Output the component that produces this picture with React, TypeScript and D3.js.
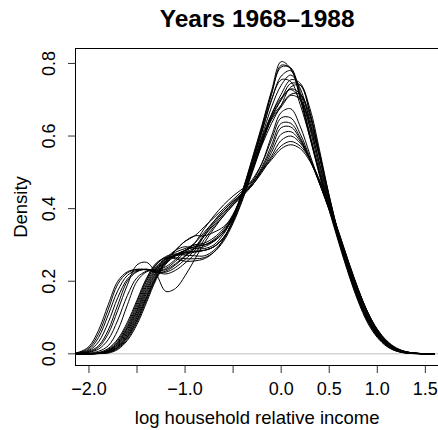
import { useEffect, useRef } from 'react'
import * as d3 from 'd3'

// evaluation grid (log household relative income)
const incomeGrid = [
  -2.2, -2.1, -2.0, -1.9, -1.8, -1.7, -1.6, -1.5, -1.4, -1.3,
  -1.2, -1.1, -1.0, -0.9, -0.8, -0.7, -0.6, -0.5, -0.4, -0.3,
  -0.2, -0.1, 0.0, 0.1, 0.2, 0.3, 0.4, 0.5, 0.6, 0.7,
  0.8, 0.9, 1.0, 1.1, 1.2, 1.3, 1.4, 1.5, 1.6,
]

// estimated densities, one array per year
const d1968 = [
  0, 0, 0.0005, 0.002, 0.01, 0.033, 0.075, 0.135, 0.2, 0.245,
  0.268, 0.275, 0.272, 0.27, 0.27, 0.285, 0.315, 0.37, 0.45, 0.54,
  0.63, 0.725, 0.805, 0.785, 0.7, 0.595, 0.49, 0.395, 0.305, 0.22,
  0.145, 0.085, 0.045, 0.02, 0.007, 0.002, 0.0005, 0, 0,
]
const d1969 = [
  0, 0, 0, 0.0013, 0.007, 0.024, 0.058, 0.111, 0.174, 0.227,
  0.259, 0.272, 0.278, 0.282, 0.285, 0.295, 0.32, 0.37, 0.445, 0.53,
  0.62, 0.715, 0.795, 0.785, 0.705, 0.6, 0.495, 0.4, 0.31, 0.225,
  0.15, 0.09, 0.048, 0.022, 0.008, 0.002, 0.0005, 0, 0,
]
const d1970 = [
  0, 0.0002, 0.0006, 0.0036, 0.0146, 0.041, 0.087, 0.148, 0.209, 0.25,
  0.265, 0.262, 0.255, 0.256, 0.262, 0.28, 0.315, 0.37, 0.45, 0.535,
  0.625, 0.72, 0.79, 0.788, 0.71, 0.605, 0.5, 0.405, 0.31, 0.225,
  0.15, 0.09, 0.048, 0.022, 0.008, 0.002, 0.0005, 0, 0,
]
const d1971 = [
  0, 0, 0.0003, 0.0016, 0.008, 0.028, 0.067, 0.121, 0.187, 0.236,
  0.263, 0.285, 0.295, 0.29, 0.29, 0.3, 0.33, 0.375, 0.445, 0.525,
  0.61, 0.7, 0.765, 0.78, 0.72, 0.62, 0.51, 0.41, 0.315, 0.228,
  0.152, 0.092, 0.05, 0.023, 0.009, 0.003, 0.0007, 0, 0,
]
const d1972 = [
  0, 0, 0, 0.001, 0.005, 0.019, 0.05, 0.1, 0.161, 0.218,
  0.254, 0.273, 0.285, 0.295, 0.3, 0.31, 0.335, 0.38, 0.445, 0.52,
  0.6, 0.68, 0.74, 0.768, 0.73, 0.635, 0.52, 0.415, 0.318, 0.23,
  0.155, 0.095, 0.052, 0.025, 0.01, 0.003, 0.001, 0, 0,
]
const d1973 = [
  0, 0, 0, 0.0006, 0.0036, 0.0146, 0.041, 0.087, 0.148, 0.209,
  0.25, 0.27, 0.28, 0.29, 0.295, 0.31, 0.335, 0.38, 0.45, 0.53,
  0.615, 0.7, 0.755, 0.75, 0.685, 0.595, 0.5, 0.41, 0.32, 0.235,
  0.16, 0.1, 0.056, 0.028, 0.012, 0.004, 0.001, 0, 0,
]
const d1974 = [
  0, 0, 0.0006, 0.0025, 0.012, 0.037, 0.081, 0.142, 0.205, 0.247,
  0.265, 0.27, 0.275, 0.28, 0.285, 0.295, 0.32, 0.365, 0.43, 0.505,
  0.585, 0.66, 0.715, 0.755, 0.745, 0.66, 0.545, 0.425, 0.32, 0.23,
  0.155, 0.095, 0.052, 0.025, 0.01, 0.003, 0.001, 0, 0,
]
const d1975 = [
  0, 0, 0, 0.0012, 0.006, 0.021, 0.054, 0.105, 0.168, 0.223,
  0.257, 0.274, 0.28, 0.283, 0.285, 0.295, 0.32, 0.365, 0.43, 0.505,
  0.58, 0.65, 0.7, 0.745, 0.74, 0.665, 0.55, 0.43, 0.322, 0.232,
  0.157, 0.097, 0.054, 0.027, 0.011, 0.004, 0.001, 0, 0,
]
const d1976 = [
  0, 0, 0.0004, 0.0018, 0.0088, 0.031, 0.071, 0.128, 0.193, 0.24,
  0.262, 0.265, 0.262, 0.262, 0.265, 0.28, 0.31, 0.36, 0.425, 0.5,
  0.575, 0.635, 0.685, 0.735, 0.74, 0.675, 0.56, 0.435, 0.325, 0.232,
  0.157, 0.097, 0.054, 0.027, 0.011, 0.004, 0.001, 0, 0,
]
const d1977 = [
  0, 0, 0, 0.0008, 0.004, 0.017, 0.046, 0.093, 0.155, 0.213,
  0.252, 0.272, 0.285, 0.295, 0.3, 0.312, 0.335, 0.375, 0.44, 0.515,
  0.59, 0.655, 0.7, 0.73, 0.715, 0.645, 0.54, 0.425, 0.322, 0.232,
  0.158, 0.098, 0.055, 0.028, 0.012, 0.004, 0.001, 0, 0,
]
const d1978 = [
  0, 0, 0, 0.0006, 0.002, 0.012, 0.037, 0.081, 0.142, 0.205,
  0.247, 0.27, 0.285, 0.3, 0.305, 0.32, 0.345, 0.385, 0.445, 0.52,
  0.595, 0.66, 0.705, 0.728, 0.7, 0.625, 0.525, 0.42, 0.32, 0.233,
  0.16, 0.1, 0.057, 0.029, 0.013, 0.005, 0.0015, 0, 0,
]
const d1979 = [
  0, 0, 0, 0.0015, 0.0075, 0.026, 0.062, 0.117, 0.18, 0.232,
  0.261, 0.28, 0.29, 0.3, 0.3, 0.315, 0.34, 0.38, 0.44, 0.51,
  0.585, 0.65, 0.685, 0.715, 0.715, 0.655, 0.55, 0.435, 0.328, 0.236,
  0.16, 0.1, 0.057, 0.029, 0.013, 0.005, 0.0015, 0, 0,
]
const d1980 = [
  0, 0, 0, 0.0008, 0.004, 0.017, 0.046, 0.093, 0.155, 0.213,
  0.255, 0.285, 0.31, 0.325, 0.325, 0.335, 0.35, 0.38, 0.435, 0.505,
  0.58, 0.645, 0.68, 0.712, 0.7, 0.635, 0.54, 0.43, 0.328, 0.238,
  0.163, 0.103, 0.06, 0.031, 0.014, 0.005, 0.0015, 0, 0,
]
const d1981 = [
  0, 0, 0.002, 0.007, 0.022, 0.065, 0.135, 0.2, 0.226, 0.232,
  0.24, 0.26, 0.285, 0.305, 0.335, 0.365, 0.395, 0.42, 0.445, 0.475,
  0.525, 0.6, 0.665, 0.675, 0.625, 0.548, 0.47, 0.395, 0.318, 0.24,
  0.168, 0.107, 0.062, 0.031, 0.013, 0.004, 0.001, 0, 0,
]
const d1982 = [
  0, 0.0005, 0.004, 0.013, 0.039, 0.093, 0.161, 0.21, 0.228, 0.235,
  0.255, 0.285, 0.31, 0.325, 0.35, 0.375, 0.4, 0.425, 0.45, 0.48,
  0.525, 0.59, 0.65, 0.65, 0.605, 0.54, 0.47, 0.398, 0.322, 0.245,
  0.172, 0.11, 0.063, 0.031, 0.013, 0.004, 0.001, 0, 0,
]
const d1983 = [
  0, 0.002, 0.007, 0.022, 0.065, 0.135, 0.2, 0.226, 0.233, 0.228,
  0.232, 0.248, 0.27, 0.29, 0.325, 0.355, 0.385, 0.415, 0.44, 0.47,
  0.515, 0.575, 0.635, 0.635, 0.595, 0.535, 0.468, 0.398, 0.325, 0.248,
  0.175, 0.112, 0.064, 0.032, 0.013, 0.004, 0.001, 0, 0,
]
const d1984 = [
  0, 0.001, 0.005, 0.018, 0.055, 0.12, 0.19, 0.245, 0.252, 0.22,
  0.172, 0.18, 0.215, 0.26, 0.305, 0.345, 0.38, 0.41, 0.44, 0.47,
  0.51, 0.565, 0.623, 0.625, 0.59, 0.535, 0.47, 0.4, 0.325, 0.248,
  0.175, 0.112, 0.065, 0.033, 0.014, 0.005, 0.0015, 0, 0,
]
const d1985 = [
  0.0003, 0.002, 0.009, 0.033, 0.086, 0.155, 0.206, 0.228, 0.232, 0.225,
  0.22, 0.23, 0.25, 0.275, 0.315, 0.35, 0.38, 0.41, 0.435, 0.465,
  0.505, 0.555, 0.605, 0.612, 0.585, 0.535, 0.472, 0.402, 0.328, 0.25,
  0.177, 0.115, 0.068, 0.036, 0.016, 0.006, 0.002, 0, 0,
]
const d1986 = [
  0.0006, 0.003, 0.012, 0.045, 0.107, 0.174, 0.216, 0.23, 0.233, 0.226,
  0.225, 0.238, 0.26, 0.285, 0.325, 0.36, 0.39, 0.415, 0.44, 0.465,
  0.505, 0.545, 0.588, 0.6, 0.58, 0.535, 0.475, 0.405, 0.33, 0.252,
  0.178, 0.114, 0.066, 0.034, 0.015, 0.005, 0.0015, 0, 0,
]
const d1987 = [
  0.001, 0.004, 0.016, 0.055, 0.122, 0.192, 0.223, 0.232, 0.232, 0.228,
  0.235, 0.255, 0.28, 0.305, 0.345, 0.38, 0.41, 0.435, 0.455, 0.475,
  0.505, 0.535, 0.565, 0.576, 0.565, 0.53, 0.475, 0.41, 0.335, 0.255,
  0.18, 0.115, 0.066, 0.033, 0.014, 0.005, 0.0015, 0, 0,
]
const d1988 = [
  0.001, 0.005, 0.02, 0.065, 0.135, 0.2, 0.226, 0.233, 0.231, 0.224,
  0.228, 0.245, 0.268, 0.292, 0.33, 0.365, 0.395, 0.42, 0.44, 0.465,
  0.5, 0.54, 0.573, 0.585, 0.572, 0.535, 0.478, 0.41, 0.333, 0.253,
  0.178, 0.113, 0.064, 0.032, 0.013, 0.004, 0.001, 0, 0,
]

const densities = [
  d1968, d1969, d1970, d1971, d1972, d1973, d1974, d1975, d1976, d1977, d1978,
  d1979, d1980, d1981, d1982, d1983, d1984, d1985, d1986, d1987, d1988,
]

const xTicks = [-2, -1.5, -1, -0.5, 0, 0.5, 1, 1.5]
const xTickLabels = ['\u22122.0', '', '\u22121.0', '', '0.0', '0.5', '1.0', '1.5']
const yTicks = [0, 0.2, 0.4, 0.6, 0.8]
const yTickLabels = ['0.0', '0.2', '0.4', '0.6', '0.8']

const FONT = '"Liberation Sans", Arial, Helvetica, sans-serif'

export default function App() {
  const svgRef = useRef<SVGSVGElement>(null)

  useEffect(() => {
    if (!svgRef.current) return
    const svg = d3.select(svgRef.current)
    svg.selectAll('*').remove()

    const left = 75.5
    const right = 438.8
    const top = 48.5
    const bottom = 365.5

    const x = d3.scaleLinear().domain([-2.14, 1.64]).range([left, right])
    const y = d3.scaleLinear().domain([-0.0322, 0.8412]).range([bottom, top])

    svg.append('defs')
      .append('clipPath')
      .attr('id', 'plot-clip')
      .append('rect')
      .attr('x', left).attr('y', top)
      .attr('width', right - left).attr('height', bottom - top)

    // zero line
    svg.append('line')
      .attr('x1', left).attr('x2', right)
      .attr('y1', y(0)).attr('y2', y(0))
      .attr('stroke', '#bebebe')
      .attr('stroke-width', 1)

    const line = d3.line<number>()
      .x((_, i) => x(incomeGrid[i]))
      .y(d => y(d))
      .curve(d3.curveCatmullRom.alpha(0.5))

    svg.append('g')
      .attr('clip-path', 'url(#plot-clip)')
      .selectAll('path')
      .data(densities)
      .enter().append('path')
      .attr('d', d => line(d))
      .attr('fill', 'none')
      .attr('stroke', '#000')
      .attr('stroke-width', 1)

    // box
    svg.append('rect')
      .attr('x', left).attr('y', top)
      .attr('width', right - left).attr('height', bottom - top)
      .attr('fill', 'none')
      .attr('stroke', '#000')

    // x axis
    const xg = svg.append('g')
    xg.selectAll('line')
      .data(xTicks)
      .enter().append('line')
      .attr('x1', d => x(d)).attr('x2', d => x(d))
      .attr('y1', bottom).attr('y2', bottom + 7.5)
      .attr('stroke', '#333')
    xg.selectAll('text')
      .data(xTicks)
      .enter().append('text')
      .attr('x', d => x(d))
      .attr('y', 395)
      .attr('text-anchor', 'middle')
      .style('font-family', FONT)
      .style('font-size', '18px')
      .text((_, i) => xTickLabels[i])

    // y axis
    const yg = svg.append('g')
    yg.selectAll('line')
      .data(yTicks)
      .enter().append('line')
      .attr('x1', left - 7.5).attr('x2', left)
      .attr('y1', d => y(d)).attr('y2', d => y(d))
      .attr('stroke', '#333')
    yg.selectAll('text')
      .data(yTicks)
      .enter().append('text')
      .attr('transform', d => `translate(55,${y(d)}) rotate(-90)`)
      .attr('text-anchor', 'middle')
      .style('font-family', FONT)
      .style('font-size', '18px')
      .text((_, i) => yTickLabels[i])

    // labels
    svg.append('text')
      .attr('x', (left + right) / 2)
      .attr('y', 424)
      .attr('text-anchor', 'middle')
      .style('font-family', FONT)
      .style('font-size', '18.5px')
      .text('log household relative income')

    svg.append('text')
      .attr('transform', `translate(26.5,${(top + bottom) / 2}) rotate(-90)`)
      .attr('text-anchor', 'middle')
      .style('font-family', FONT)
      .style('font-size', '18.5px')
      .text('Density')

    svg.append('text')
      .attr('x', (left + right) / 2)
      .attr('y', 26.5)
      .attr('text-anchor', 'middle')
      .style('font-family', FONT)
      .style('font-size', '24.5px')
      .style('font-weight', 'bold')
      .text('Years 1968\u20131988')
  }, [])

  return (
    <svg
      ref={svgRef}
      width={438}
      height={430}
      style={{ position: 'absolute', left: 0, top: 0, background: '#fff' }}
    />
  )
}
